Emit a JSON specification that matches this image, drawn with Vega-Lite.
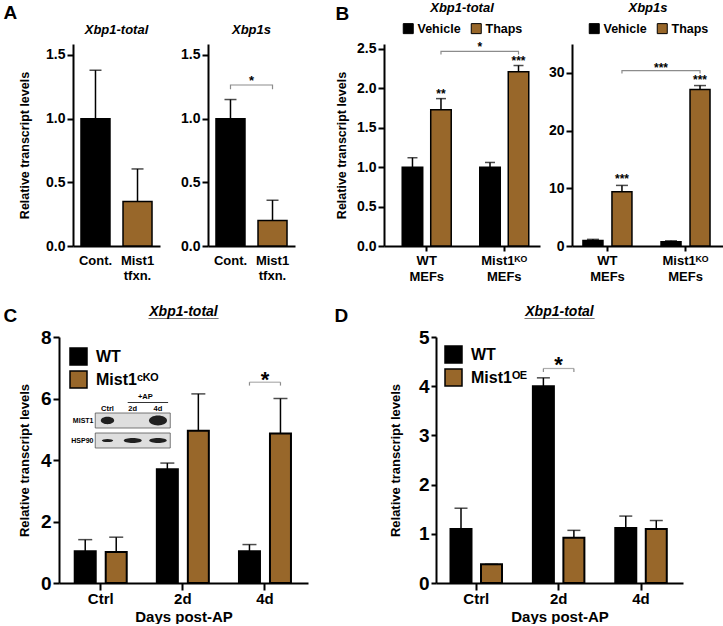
{
"$schema":"https://vega.github.io/schema/vega-lite/v6.json",
"background":"white",
"padding":{"left":3,"top":2,"right":0,"bottom":0},
"config":{
 "font":"Liberation Sans",
 "view":{"stroke":null},
 "axis":{"domainColor":"black","domainWidth":2,"tickColor":"black","tickWidth":2,"labelColor":"black","labelFont":"Liberation Sans","labelFontWeight":"bold","titleColor":"black","titleFont":"Liberation Sans","titleFontWeight":"bold","grid":false},
 "title":{"font":"Liberation Sans","fontSize":13,"fontStyle":"italic","fontWeight":"bold","color":"black","anchor":"middle","frame":"group","subtitleFont":"Liberation Sans","subtitleColor":"black","subtitleFontSize":14,"subtitleFontWeight":"bold","subtitleFontStyle":"normal"},
 "legend":{"labelFont":"Liberation Sans","labelColor":"black","labelFontWeight":"bold","titleFont":"Liberation Sans","titleColor":"black","layout":{"top":{"anchor":"middle"}}},
 "text":{"font":"Liberation Sans","fontWeight":"bold","color":"black"}
},
"spacing":22,
"resolve":{"scale":{"color":"independent"}},
"vconcat":[
 {"title":{"text":"A","anchor":"start","frame":"bounds","fontSize":19,"fontStyle":"normal","fontWeight":"bold","dx":-13,"dy":25,"offset":4},
  "spacing":40,
  "resolve":{"scale":{"color":"independent"}},
  "hconcat":[
   {"spacing":0,
    "resolve":{"scale":{"color":"independent"}},
    "hconcat":[
     {"width":1,"height":1,"data":{"values":[{}]},"mark":{"type":"rule","opacity":0},"encoding":{}},
     {"spacing":20,
      "hconcat":[
       {"width":87,"height":202,
        "title":{"text":"Xbp1-total","offset":7},
        "data":{"values":[{"grp":"Cont.","value":1.0,"err":1.38},{"grp":"Mist1 tfxn.","value":0.35,"err":0.605}]},
        "encoding":{
          "x":{"field":"grp","type":"nominal","scale":{"domain":["Cont.","Mist1 tfxn."],"paddingInner":0.31,"paddingOuter":0.19},"axis":{"title":null,"labelAngle":0,"ticks":false,"labelPadding":8,"labelFontSize":13,"labelLineHeight":15,"labelExpr":"split(datum.label, ' ')"}},
          "y":{"field":"value","type":"quantitative","scale":{"domain":[0,1.586],"nice":false},"axis":{"values":[0,0.5,1,1.5],"format":".1f","title":"Relative transcript levels","titleFontSize":12.5,"titlePadding":14,"labelFontSize":14,"tickSize":6,"labelPadding":2}}
        },
        "layer":[
          {"mark":{"type":"bar","stroke":"black","strokeWidth":1.5},"encoding":{"color":{"field":"grp","type":"nominal","scale":{"domain":["Cont.","Mist1 tfxn."],"range":["black","#98672a"]},"legend":null}}},
          {"mark":{"type":"rule","strokeWidth":1.5,"color":"black"},"encoding":{"y2":{"field":"err"}}},
          {"mark":{"type":"tick","thickness":1.5,"size":12,"color":"black"},"encoding":{"y":{"field":"err","type":"quantitative","title":"Relative transcript levels"}}}
        ]},
       {"width":87,"height":202,
        "title":{"text":"Xbp1s","offset":7},
        "layer":[
         {"data":{"values":[{"grp":"Cont.","value":1.0,"err":1.15},{"grp":"Mist1 tfxn.","value":0.2,"err":0.36}]},
          "encoding":{
            "x":{"field":"grp","type":"nominal","scale":{"domain":["Cont.","Mist1 tfxn."],"paddingInner":0.31,"paddingOuter":0.19},"axis":{"title":null,"labelAngle":0,"ticks":false,"labelPadding":8,"labelFontSize":13,"labelLineHeight":15,"labelExpr":"split(datum.label, ' ')"}},
            "y":{"field":"value","type":"quantitative","scale":{"domain":[0,1.586],"nice":false},"axis":{"values":[0,0.5,1,1.5],"format":".1f","title":null,"labelFontSize":14,"tickSize":6,"labelPadding":2}}
          },
          "layer":[
            {"mark":{"type":"bar","stroke":"black","strokeWidth":1.5},"encoding":{"color":{"field":"grp","type":"nominal","scale":{"domain":["Cont.","Mist1 tfxn."],"range":["black","#98672a"]},"legend":null}}},
            {"mark":{"type":"rule","strokeWidth":1.5,"color":"black"},"encoding":{"y2":{"field":"err"}}},
            {"mark":{"type":"tick","thickness":1.5,"size":12,"color":"black"},"encoding":{"y":{"field":"err","type":"quantitative","title":null}}}
          ]},
         {"data":{"values":[{"grp":"Cont.","y":1.23,"o":1},{"grp":"Cont.","y":1.264,"o":2},{"grp":"Mist1 tfxn.","y":1.264,"o":3},{"grp":"Mist1 tfxn.","y":1.23,"o":4}]},
          "mark":{"type":"line","color":"#8c8c8c","strokeWidth":1.2},
          "encoding":{"x":{"field":"grp","type":"nominal"},"y":{"field":"y","type":"quantitative","title":null},"order":{"field":"o"}}},
         {"data":{"values":[{"grp":"Cont.","y":1.264,"s":"*"}]},
          "mark":{"type":"text","fontSize":13,"dx":21,"baseline":"alphabetic"},
          "encoding":{"x":{"field":"grp","type":"nominal"},"y":{"field":"y","type":"quantitative","title":null},"text":{"field":"s"}}}
        ]}
      ]}
    ]},
   {"spacing":8,
    "resolve":{"scale":{"color":"independent"}},
    "hconcat":[
     {"width":156,"height":202,
      "title":{"text":"B","anchor":"start","frame":"bounds","fontSize":19,"fontStyle":"normal","fontWeight":"bold","dx":0,"dy":26,"offset":4},
      "layer":[
       {"data":{"values":[{"g":"WT","c":"Vehicle","v":1.0,"e":1.12,"sig":""},{"g":"WT","c":"Thaps","v":1.73,"e":1.87,"sig":"**"},{"g":"Mist1ᴷᴼ","c":"Vehicle","v":1.0,"e":1.06,"sig":""},{"g":"Mist1ᴷᴼ","c":"Thaps","v":2.21,"e":2.29,"sig":"***"}]},
        "encoding":{
          "x":{"field":"g","type":"nominal","scale":{"domain":["WT","Mist1ᴷᴼ"],"paddingInner":0.5,"paddingOuter":0.256,"align":0.588},"axis":{"title":null,"labelAngle":0,"tickSize":5,"labelPadding":3,"labelFontSize":13,"labelLineHeight":16,"labelExpr":"[datum.label, 'MEFs']"}},
          "y":{"field":"v","type":"quantitative","scale":{"domain":[0,2.563],"nice":false},"axis":{"values":[0,0.5,1,1.5,2,2.5],"format":".1f","title":"Relative transcript levels","titleFontSize":12.5,"titlePadding":8,"labelFontSize":14,"tickSize":6,"labelPadding":2}},
          "color":{"field":"c","type":"nominal","scale":{"domain":["Vehicle","Thaps"],"range":["black","#98672a"]},"legend":{"title":"Xbp1-total","titleOrient":"top","titleAnchor":"middle","titleFontSize":13,"titleFontStyle":"italic","titleFontWeight":"bold","titlePadding":7,"orient":"top","direction":"horizontal","symbolType":"square","symbolSize":100,"symbolStrokeColor":"black","symbolStrokeWidth":1,"labelFontSize":12.5,"labelFontWeight":"bold","labelOffset":3,"columnPadding":8,"offset":8}}
        },
        "layer":[
          {"transform":[{"filter":"datum.c == 'Vehicle'"}],
           "layer":[
             {"mark":{"type":"bar","width":20.5,"xOffset":-14.25,"stroke":"black","strokeWidth":1.5}},
             {"mark":{"type":"rule","xOffset":-14.25,"strokeWidth":1.5,"color":"black"},"encoding":{"y2":{"field":"e"},"color":{"value":"black"}}},
             {"mark":{"type":"tick","xOffset":-14.25,"thickness":1.5,"size":10,"color":"black"},"encoding":{"y":{"field":"e","type":"quantitative","title":"Relative transcript levels"},"color":{"value":"black"}}}
           ]},
          {"transform":[{"filter":"datum.c == 'Thaps'"}],
           "layer":[
             {"mark":{"type":"bar","width":20.5,"xOffset":14.25,"stroke":"black","strokeWidth":1.5}},
             {"mark":{"type":"rule","xOffset":14.25,"strokeWidth":1.5,"color":"black"},"encoding":{"y2":{"field":"e"},"color":{"value":"black"}}},
             {"mark":{"type":"tick","xOffset":14.25,"thickness":1.5,"size":10,"color":"black"},"encoding":{"y":{"field":"e","type":"quantitative","title":"Relative transcript levels"},"color":{"value":"black"}}},
             {"mark":{"type":"text","xOffset":14.25,"fontSize":12,"dy":-1,"baseline":"alphabetic"},"encoding":{"y":{"field":"e","type":"quantitative","title":"Relative transcript levels"},"text":{"field":"sig"},"color":{"value":"black"}}}
           ]}
        ]},
       {"data":{"values":[{"g":"WT","y":2.43,"o":1},{"g":"WT","y":2.47,"o":2},{"g":"Mist1ᴷᴼ","y":2.47,"o":3},{"g":"Mist1ᴷᴼ","y":2.43,"o":4}]},
        "mark":{"type":"line","xOffset":14.25,"color":"#8c8c8c","strokeWidth":1.2},
        "encoding":{"x":{"field":"g","type":"nominal"},"y":{"field":"y","type":"quantitative","title":"Relative transcript levels"},"order":{"field":"o"}}},
       {"data":{"values":[{"g":"WT","y":2.47,"s":"*"}]},
        "mark":{"type":"text","fontSize":12,"dx":53,"baseline":"alphabetic"},
        "encoding":{"x":{"field":"g","type":"nominal"},"y":{"field":"y","type":"quantitative","title":"Relative transcript levels"},"text":{"field":"s"}}}
      ]},
     {"width":153,"height":202,
      "layer":[
       {"data":{"values":[{"g":"WT","c":"Vehicle","v":0.95,"e":1.15,"sig":""},{"g":"WT","c":"Thaps","v":9.4,"e":10.5,"sig":"***"},{"g":"Mist1ᴷᴼ","c":"Vehicle","v":0.75,"e":0.9,"sig":""},{"g":"Mist1ᴷᴼ","c":"Thaps","v":27.1,"e":27.8,"sig":"***"}]},
        "encoding":{
          "x":{"field":"g","type":"nominal","scale":{"domain":["WT","Mist1ᴷᴼ"],"paddingInner":0.5,"paddingOuter":0.23,"align":0.444},"axis":{"title":null,"labelAngle":0,"tickSize":5,"labelPadding":3,"labelFontSize":13,"labelLineHeight":16,"labelExpr":"[datum.label, 'MEFs']"}},
          "y":{"field":"v","type":"quantitative","scale":{"domain":[0,35],"nice":false},"axis":{"values":[0,5,10,15,20,25,30,35],"format":"d","title":null,"labelFontSize":14,"tickSize":6,"labelPadding":2}},
          "color":{"field":"c","type":"nominal","scale":{"domain":["Vehicle","Thaps"],"range":["black","#98672a"]},"legend":{"title":"Xbp1s","titleOrient":"top","titleAnchor":"middle","titleFontSize":13,"titleFontStyle":"italic","titleFontWeight":"bold","titlePadding":7,"orient":"top","direction":"horizontal","symbolType":"square","symbolSize":100,"symbolStrokeColor":"black","symbolStrokeWidth":1,"labelFontSize":12.5,"labelFontWeight":"bold","labelOffset":3,"columnPadding":8,"offset":8}}
        },
        "layer":[
          {"transform":[{"filter":"datum.c == 'Vehicle'"}],
           "layer":[
             {"mark":{"type":"bar","width":20,"xOffset":-14.5,"stroke":"black","strokeWidth":1.5}},
             {"mark":{"type":"rule","xOffset":-14.5,"strokeWidth":1.5,"color":"black"},"encoding":{"y2":{"field":"e"},"color":{"value":"black"}}},
             {"mark":{"type":"tick","xOffset":-14.5,"thickness":1.5,"size":12,"color":"black"},"encoding":{"y":{"field":"e","type":"quantitative","title":null},"color":{"value":"black"}}}
           ]},
          {"transform":[{"filter":"datum.c == 'Thaps'"}],
           "layer":[
             {"mark":{"type":"bar","width":20,"xOffset":14.5,"stroke":"black","strokeWidth":1.5}},
             {"mark":{"type":"rule","xOffset":14.5,"strokeWidth":1.5,"color":"black"},"encoding":{"y2":{"field":"e"},"color":{"value":"black"}}},
             {"mark":{"type":"tick","xOffset":14.5,"thickness":1.5,"size":12,"color":"black"},"encoding":{"y":{"field":"e","type":"quantitative","title":null},"color":{"value":"black"}}},
             {"mark":{"type":"text","xOffset":14.5,"fontSize":12,"dy":-2,"baseline":"alphabetic"},"encoding":{"y":{"field":"e","type":"quantitative","title":null},"text":{"field":"sig"},"color":{"value":"black"}}}
           ]}
        ]},
       {"data":{"values":[{"g":"WT","y":29.9,"o":1},{"g":"WT","y":30.4,"o":2},{"g":"Mist1ᴷᴼ","y":30.4,"o":3},{"g":"Mist1ᴷᴼ","y":29.9,"o":4}]},
        "mark":{"type":"line","xOffset":14.5,"color":"#8c8c8c","strokeWidth":1.2},
        "encoding":{"x":{"field":"g","type":"nominal"},"y":{"field":"y","type":"quantitative","title":null},"order":{"field":"o"}}},
       {"data":{"values":[{"g":"WT","y":30.4,"s":"***"}]},
        "mark":{"type":"text","fontSize":12,"dx":53.5,"dy":1,"baseline":"alphabetic"},
        "encoding":{"x":{"field":"g","type":"nominal"},"y":{"field":"y","type":"quantitative","title":null},"text":{"field":"s"}}}
      ]}
    ]}
  ]},
 {"title":{"text":"C","anchor":"start","frame":"bounds","fontSize":19,"fontStyle":"normal","fontWeight":"bold","dx":-13,"dy":25,"offset":4},
  "spacing":26,
  "resolve":{"scale":{"color":"independent"}},
  "hconcat":[
   {"spacing":0,
    "resolve":{"scale":{"color":"independent"}},
    "hconcat":[
     {"width":1,"height":1,"data":{"values":[{}]},"mark":{"type":"rule","opacity":0},"encoding":{}},
     {"width":249,"height":246,
      "title":{"text":"Xbp1-total","fontSize":14,"offset":8,"subtitle":"_________","subtitlePadding":-13},
      "layer":[
       {"layer":[
         {"data":{"values":[{"day":"Ctrl","grp":"WT","v":1.03,"e":1.41},{"day":"Ctrl","grp":"Mist1ᶜᴷᴼ","v":1.01,"e":1.49},{"day":"2d","grp":"WT","v":3.7,"e":3.9},{"day":"2d","grp":"Mist1ᶜᴷᴼ","v":4.95,"e":6.15},{"day":"4d","grp":"WT","v":1.03,"e":1.25},{"day":"4d","grp":"Mist1ᶜᴷᴼ","v":4.86,"e":6.0}]},
          "encoding":{
            "x":{"field":"day","type":"nominal","scale":{"domain":["Ctrl","2d","4d"],"paddingInner":0.5,"paddingOuter":0.266,"align":0.485},"axis":{"title":"Days post-AP","titleFontSize":15,"titlePadding":3,"labelAngle":0,"labelFontSize":15,"labelPadding":1,"tickSize":7}},
            "y":{"field":"v","type":"quantitative","scale":{"domain":[0,8],"nice":false},"axis":{"values":[0,2,4,6,8],"title":"Relative transcript levels","titleFontSize":13,"titlePadding":9,"labelFontSize":19,"tickSize":6,"labelPadding":2}},
            "color":{"field":"grp","type":"nominal","scale":{"domain":["WT","Mist1ᶜᴷᴼ"],"range":["black","#98672a"]},"legend":{"title":null,"orient":"top-left","offset":10,"direction":"vertical","symbolType":"square","symbolSize":289,"symbolStrokeColor":"black","symbolStrokeWidth":1.5,"labelFontSize":16,"labelFontWeight":"bold","labelOffset":8,"rowPadding":0}}
          },
          "layer":[
            {"transform":[{"filter":"datum.grp == 'WT'"}],
             "layer":[
               {"mark":{"type":"bar","width":21,"xOffset":-15.5,"stroke":"black","strokeWidth":2}},
               {"mark":{"type":"rule","xOffset":-15.5,"strokeWidth":1.5,"color":"black"},"encoding":{"y2":{"field":"e"},"color":{"value":"black"}}},
               {"mark":{"type":"tick","xOffset":-15.5,"thickness":1.5,"size":14,"color":"black"},"encoding":{"y":{"field":"e","type":"quantitative","title":"Relative transcript levels"},"color":{"value":"black"}}}
             ]},
            {"transform":[{"filter":"datum.grp != 'WT'"}],
             "layer":[
               {"mark":{"type":"bar","width":21,"xOffset":15.5,"stroke":"black","strokeWidth":2}},
               {"mark":{"type":"rule","xOffset":15.5,"strokeWidth":1.5,"color":"black"},"encoding":{"y2":{"field":"e"},"color":{"value":"black"}}},
               {"mark":{"type":"tick","xOffset":15.5,"thickness":1.5,"size":14,"color":"black"},"encoding":{"y":{"field":"e","type":"quantitative","title":"Relative transcript levels"},"color":{"value":"black"}}}
             ]}
          ]},
         {"data":{"values":[{"day":"4d","lo":6.42,"hi":6.53}]},
          "encoding":{"x":{"field":"day","type":"nominal"}},
          "layer":[
            {"mark":{"type":"tick","thickness":1.2,"size":31,"color":"#8c8c8c"},"encoding":{"y":{"field":"hi","type":"quantitative","title":"Relative transcript levels"}}},
            {"mark":{"type":"rule","xOffset":-15.5,"strokeWidth":1.2,"color":"#8c8c8c"},"encoding":{"y":{"field":"lo","type":"quantitative","title":"Relative transcript levels"},"y2":{"field":"hi"}}},
            {"mark":{"type":"rule","xOffset":15.5,"strokeWidth":1.2,"color":"#8c8c8c"},"encoding":{"y":{"field":"lo","type":"quantitative","title":"Relative transcript levels"},"y2":{"field":"hi"}}},
            {"mark":{"type":"text","fontSize":22,"dy":5,"baseline":"alphabetic"},"encoding":{"y":{"field":"hi","type":"quantitative","title":"Relative transcript levels"},"text":{"value":"*"}}}
          ]}
       ]},
       {"layer":[
         {"data":{"values":[{"prot":"MIST1","r":1},{"prot":"HSP90","r":0}]},
          "layer":[
            {"mark":{"type":"point","shape":"M-1,-0.2H1V0.2H-1Z","size":5625,"filled":true,"fill":"#dedede","stroke":"#555555","strokeWidth":0.8,"opacity":1},
             "encoding":{"x":{"datum":1,"type":"quantitative","scale":{"domain":[-1.92,7.94],"nice":false,"zero":false},"axis":null},"y":{"field":"r","type":"quantitative","scale":{"domain":[-7.125,5.175],"nice":false,"zero":false},"axis":null}}},
            {"mark":{"type":"text","fontSize":7,"dx":-14,"align":"right","baseline":"middle"},
             "encoding":{"x":{"datum":0,"type":"quantitative"},"y":{"field":"r","type":"quantitative"},"text":{"field":"prot"}}}
          ]},
         {"data":{"values":[{"lane":0,"r":1,"prot":"MIST1","i":0.55},{"lane":2,"r":1,"prot":"MIST1","i":1},{"lane":0,"r":0,"prot":"HSP90","i":0.4},{"lane":1,"r":0,"prot":"HSP90","i":1},{"lane":2,"r":0,"prot":"HSP90","i":0.95}]},
          "mark":{"type":"point","filled":true,"color":"#151515","opacity":0.95},
          "encoding":{"x":{"field":"lane","type":"quantitative"},"y":{"field":"r","type":"quantitative"},
            "shape":{"field":"prot","type":"nominal","scale":{"domain":["MIST1","HSP90"],"range":["M-1,0A1,0.55,0,1,0,1,0A1,0.55,0,1,0,-1,0Z","M-1,0A1,0.28,0,1,0,1,0A1,0.28,0,1,0,-1,0Z"]},"legend":null},
            "size":{"field":"i","type":"quantitative","scale":{"domain":[0,1],"range":[0,324]},"legend":null}}},
         {"data":{"values":[{"lane":0,"t":"Ctrl"},{"lane":1,"t":"2d"},{"lane":2,"t":"4d"}]},
          "mark":{"type":"text","fontSize":7.5,"baseline":"middle"},
          "encoding":{"x":{"field":"lane","type":"quantitative"},"y":{"datum":1.6,"type":"quantitative"},"text":{"field":"t"}}},
         {"data":{"values":[{"t":"+AP"}]},
          "mark":{"type":"text","fontSize":7.5,"baseline":"middle"},
          "encoding":{"x":{"datum":1.5,"type":"quantitative"},"y":{"datum":2.2,"type":"quantitative"},"text":{"field":"t"}}},
         {"data":{"values":[{"t":"+AP"}]},
          "mark":{"type":"rule","color":"black","strokeWidth":0.8},
          "encoding":{"x":{"datum":0.8,"type":"quantitative"},"x2":{"datum":2.4},"y":{"datum":1.9,"type":"quantitative"}}}
       ]}
      ],
      "resolve":{"scale":{"x":"independent","y":"independent"}}}
    ]},
   {"title":{"text":"D","anchor":"start","frame":"bounds","fontSize":19,"fontStyle":"normal","fontWeight":"bold","dx":-55,"dy":25,"offset":4},
    "hconcat":[
     {"width":247,"height":246,
      "title":{"text":"Xbp1-total","fontSize":14,"offset":8,"subtitle":"_________","subtitlePadding":-13},
      "layer":[
       {"data":{"values":[{"day":"Ctrl","grp":"WT","v":1.1,"e":1.52},{"day":"Ctrl","grp":"Mist1ᴼᴱ","v":0.38,"e":0.38},{"day":"2d","grp":"WT","v":4.0,"e":4.17},{"day":"2d","grp":"Mist1ᴼᴱ","v":0.92,"e":1.07},{"day":"4d","grp":"WT","v":1.12,"e":1.36},{"day":"4d","grp":"Mist1ᴼᴱ","v":1.1,"e":1.27}]},
        "encoding":{
          "x":{"field":"day","type":"nominal","scale":{"domain":["Ctrl","2d","4d"],"paddingInner":0.5,"paddingOuter":0.249,"align":0.479},"axis":{"title":"Days post-AP","titleFontSize":15,"titlePadding":3,"labelAngle":0,"labelFontSize":15,"labelPadding":1,"tickSize":7}},
          "y":{"field":"v","type":"quantitative","scale":{"domain":[0,5],"nice":false},"axis":{"values":[0,1,2,3,4,5],"title":"Relative transcript levels","titleFontSize":13,"titlePadding":16,"labelFontSize":19,"tickSize":5,"labelPadding":2}},
          "color":{"field":"grp","type":"nominal","scale":{"domain":["WT","Mist1ᴼᴱ"],"range":["black","#98672a"]},"legend":{"title":null,"orient":"top-left","offset":8,"direction":"vertical","symbolType":"square","symbolSize":289,"symbolStrokeColor":"black","symbolStrokeWidth":1.5,"labelFontSize":16,"labelFontWeight":"bold","labelOffset":8,"rowPadding":0}}
        },
        "layer":[
          {"transform":[{"filter":"datum.grp == 'WT'"}],
           "layer":[
             {"mark":{"type":"bar","width":21,"xOffset":-15.25,"stroke":"black","strokeWidth":2}},
             {"mark":{"type":"rule","xOffset":-15.25,"strokeWidth":1.5,"color":"black"},"encoding":{"y2":{"field":"e"},"color":{"value":"black"}}},
             {"mark":{"type":"tick","xOffset":-15.25,"thickness":1.5,"size":13,"color":"black"},"encoding":{"y":{"field":"e","type":"quantitative","title":"Relative transcript levels"},"color":{"value":"black"}}}
           ]},
          {"transform":[{"filter":"datum.grp != 'WT'"}],
           "layer":[
             {"mark":{"type":"bar","width":21,"xOffset":15.25,"stroke":"black","strokeWidth":2}},
             {"mark":{"type":"rule","xOffset":15.25,"strokeWidth":1.5,"color":"black"},"encoding":{"y2":{"field":"e"},"color":{"value":"black"}}},
             {"mark":{"type":"tick","xOffset":15.25,"thickness":1.5,"size":13,"color":"black"},"encoding":{"y":{"field":"e","type":"quantitative","title":"Relative transcript levels"},"color":{"value":"black"}}}
           ]}
        ]},
       {"data":{"values":[{"day":"2d","lo":4.29,"hi":4.36}]},
        "encoding":{"x":{"field":"day","type":"nominal"}},
        "layer":[
          {"mark":{"type":"tick","thickness":1.2,"size":30.5,"color":"#8c8c8c"},"encoding":{"y":{"field":"hi","type":"quantitative","title":"Relative transcript levels"}}},
          {"mark":{"type":"rule","xOffset":-15.25,"strokeWidth":1.2,"color":"#8c8c8c"},"encoding":{"y":{"field":"lo","type":"quantitative","title":"Relative transcript levels"},"y2":{"field":"hi"}}},
          {"mark":{"type":"rule","xOffset":15.25,"strokeWidth":1.2,"color":"#8c8c8c"},"encoding":{"y":{"field":"lo","type":"quantitative","title":"Relative transcript levels"},"y2":{"field":"hi"}}},
          {"mark":{"type":"text","fontSize":22,"dy":4,"baseline":"alphabetic"},"encoding":{"y":{"field":"hi","type":"quantitative","title":"Relative transcript levels"},"text":{"value":"*"}}}
        ]}
      ]}
    ]}
  ]}
]
}
